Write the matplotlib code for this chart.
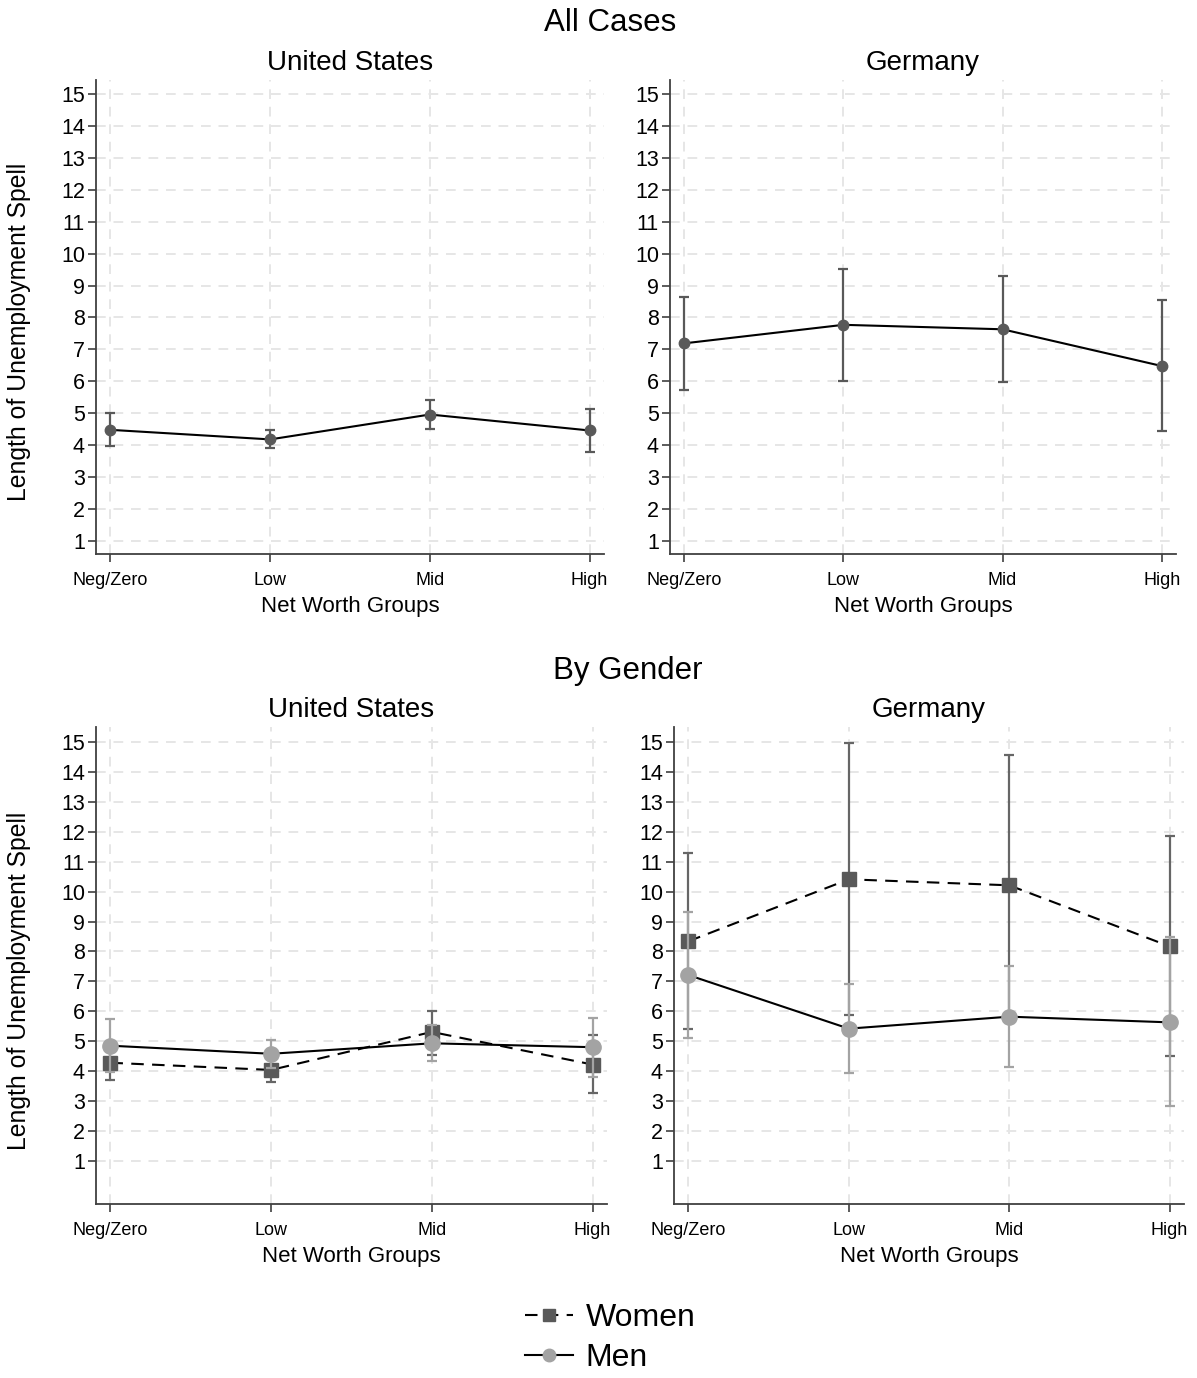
import matplotlib.pyplot as plt
from matplotlib.lines import Line2D

plt.rcParams["font.family"] = ["Liberation Sans", "DejaVu Sans"]

groups = ["Neg/Zero", "Low", "Mid", "High"]

# All cases: mean and confidence bounds
us_all = [4.48, 4.18, 4.96, 4.46]
us_all_lo = [3.96, 3.90, 4.51, 3.79]
us_all_hi = [5.00, 4.47, 5.41, 5.13]
de_all = [7.19, 7.77, 7.63, 6.48]
de_all_lo = [5.74, 6.02, 5.97, 4.45]
de_all_hi = [8.65, 9.51, 9.31, 8.54]

# By gender
us_women = [4.28, 4.04, 5.31, 4.22]
us_women_lo = [3.69, 3.63, 4.54, 3.27]
us_women_hi = [4.87, 4.45, 6.00, 5.22]
us_men = [4.85, 4.58, 4.93, 4.80]
us_men_lo = [3.96, 4.12, 4.35, 3.81]
us_men_hi = [5.74, 5.04, 5.55, 5.78]
de_women = [8.34, 10.41, 10.21, 8.17]
de_women_lo = [5.41, 5.89, 5.84, 4.50]
de_women_hi = [11.30, 14.97, 14.58, 11.86]
de_men = [7.21, 5.42, 5.82, 5.63]
de_men_lo = [5.10, 3.94, 4.13, 2.82]
de_men_hi = [9.31, 6.91, 7.50, 8.47]

W, H = 1197, 1378
DARK = "#595959"
LIGHT = "#a3a3a3"
BAR_DARK = "#666666"
GRID = "#e6e6e6"
SPINE = "#404040"


def box(x0, y0, x1, y1):
    return [x0 / W, 1 - y1 / H, (x1 - x0) / W, (y1 - y0) / H]


def style(ax, ylim, ylabel=False):
    x = range(len(groups))
    ax.set_xlim(-0.09, 3.09)
    ax.set_ylim(*ylim)
    ax.set_yticks(range(1, 16))
    ax.set_xticks(list(x))
    ax.set_xticklabels(groups, fontsize=13)
    ax.tick_params(axis="y", labelsize=15.5, length=6, width=1.2, color=SPINE, pad=2)
    ax.tick_params(axis="x", length=6, width=1.2, color=SPINE, pad=7)
    for s in ["top", "right"]:
        ax.spines[s].set_visible(False)
    for s in ["left", "bottom"]:
        ax.spines[s].set_color(SPINE)
        ax.spines[s].set_linewidth(1.3)
    ax.grid(True, color=GRID, linestyle=(0, (5, 4)), linewidth=1.4)
    ax.set_axisbelow(True)
    ax.set_xlabel("Net Worth Groups", fontsize=16, labelpad=5)
    if ylabel:
        ax.set_ylabel("Length of Unemployment Spell", fontsize=17.8)
        ax.yaxis.set_label_coords(-0.127, 0.468)


def errs(mid, lo, hi):
    return [[m - l for m, l in zip(mid, lo)], [h - m for m, h in zip(mid, hi)]]


fig = plt.figure(figsize=(W / 100, H / 100), dpi=100)

ax_tl = fig.add_axes(box(96, 80, 604, 554))
ax_tr = fig.add_axes(box(670, 80, 1176, 554))
ax_bl = fig.add_axes(box(96, 727, 607, 1204))
ax_br = fig.add_axes(box(674, 727, 1184, 1204))

x = list(range(len(groups)))

for ax, mid, lo, hi, title, yl in [
    (ax_tl, us_all, us_all_lo, us_all_hi, "United States", True),
    (ax_tr, de_all, de_all_lo, de_all_hi, "Germany", False),
]:
    ax.errorbar(x, mid, yerr=errs(mid, lo, hi), fmt="none", ecolor=DARK,
                elinewidth=1.6, capsize=3.5, capthick=1.6, zorder=2)
    ax.plot(x, mid, color="black", linewidth=1.5, zorder=3)
    ax.plot(x, mid, "o", color=DARK, markersize=7.5, zorder=4)
    style(ax, (0.59, 15.44), yl)
    ax.set_title(title, fontsize=20, pad=7)

for ax, wm, wlo, whi, mm, mlo, mhi, title, yl in [
    (ax_bl, us_women, us_women_lo, us_women_hi, us_men, us_men_lo, us_men_hi, "United States", True),
    (ax_br, de_women, de_women_lo, de_women_hi, de_men, de_men_lo, de_men_hi, "Germany", False),
]:
    ax.errorbar(x, wm, yerr=errs(wm, wlo, whi), fmt="none", ecolor=BAR_DARK,
                elinewidth=1.6, capsize=3.5, capthick=1.6, zorder=2)
    ax.plot(x, wm, color="black", linewidth=1.5, linestyle=(0, (6, 4)), zorder=3)
    ax.plot(x, wm, "s", color=DARK, markersize=10.5, zorder=4)
    ax.errorbar(x, mm, yerr=errs(mm, mlo, mhi), fmt="none", ecolor=LIGHT,
                elinewidth=1.6, capsize=3.5, capthick=1.6, zorder=5)
    ax.plot(x, mm, color="black", linewidth=1.5, zorder=6)
    ax.plot(x, mm, "o", color=LIGHT, markersize=11, zorder=7)
    style(ax, (-0.44, 15.5), yl)
    ax.set_title(title, fontsize=20, pad=7)

fig.text(610 / W, 1 - 23 / H, "All Cases", fontsize=22.5, ha="center", va="center")
fig.text(628 / W, 1 - 671 / H, "By Gender", fontsize=22.5, ha="center", va="center")

handles = [
    Line2D([], [], color="black", linestyle=(0, (6, 4)), linewidth=1.5,
           marker="s", markersize=8, markerfacecolor=DARK, markeredgecolor=DARK),
    Line2D([], [], color="black", linewidth=1.5,
           marker="o", markersize=9, markerfacecolor=LIGHT, markeredgecolor=LIGHT),
]
fig.legend(handles, ["Women", "Men"], loc="center", bbox_to_anchor=(610 / W, 1 - 1338 / H),
           frameon=False, fontsize=23, handlelength=1.5, handletextpad=0.4,
           labelspacing=0.3)

fig.savefig("out.png", dpi=100)
